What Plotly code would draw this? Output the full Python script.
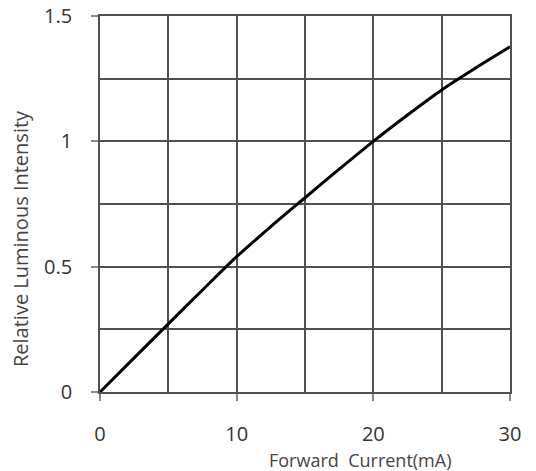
import plotly.graph_objects as go

current_ma = [0, 2.5, 5, 7.5, 10, 12.5, 15, 17.5, 20, 22.5, 25, 27.5, 30]
rel_intensity = [0, 0.136, 0.272, 0.407, 0.54, 0.66, 0.775, 0.889, 1.0, 1.105, 1.205, 1.293, 1.377]

x_ticks = [0, 10, 20, 30]
y_ticks = [0, 0.5, 1, 1.5]
y_tick_text = ["0", "0.5", "1", "1.5"]

x_title = "Forward  Current(mA)"
y_title = "Relative Luminous Intensity"

fig = go.Figure()
fig.add_trace(go.Scatter(x=current_ma, y=rel_intensity, mode="lines",
                         line=dict(color="black", width=3, shape="spline", smoothing=0.8),
                         showlegend=False, hoverinfo="skip"))

grid_col = "#505050"
tick_col = "#8a8a8a"
font_fam = "Open Sans, Liberation Sans, sans-serif"

ML, MR, MT, MB = 100, 26, 16, 79
W, H = 536, 471
pw, ph = W - ML - MR, H - MT - MB

axis_common = dict(
    showgrid=True, gridcolor=grid_col, gridwidth=1.8,
    showline=True, linecolor=grid_col, linewidth=1.8, mirror=True,
    ticks="outside", ticklen=7, tickcolor=tick_col, tickwidth=1.5,
    tickfont=dict(size=20, color="#333333"), ticklabeloverflow="allow",
    zeroline=False, fixedrange=True, automargin=False,
)

fig.update_layout(
    width=W, height=H,
    margin=dict(l=ML, r=MR, t=MT, b=MB),
    paper_bgcolor="white", plot_bgcolor="white",
    font=dict(family=font_fam, color="#333333"),
    xaxis=dict(range=[0, 30], tickvals=x_ticks, ticktext=[str(v) for v in x_ticks],
               minor=dict(dtick=5, tick0=0, showgrid=True, gridcolor=grid_col, gridwidth=1.8),
               ticklabelstandoff=16, **axis_common),
    yaxis=dict(range=[0, 1.5], tickvals=y_ticks, ticktext=y_tick_text,
               minor=dict(dtick=0.25, tick0=0, showgrid=True, gridcolor=grid_col, gridwidth=1.8),
               ticklabelstandoff=15, **axis_common),
    annotations=[
        dict(text=x_title, xref="paper", yref="paper",
             x=(360 - 100) / pw, y=(392 - 460) / ph,
             xanchor="center", yanchor="middle", showarrow=False,
             font=dict(size=18, color="#444444")),
        dict(text=y_title, xref="paper", yref="paper",
             x=(20 - 100) / pw, y=(392 - 239) / ph,
             xanchor="center", yanchor="middle", showarrow=False, textangle=-90,
             font=dict(size=20, color="#444444")),
    ],
)

fig.write_html("out.html", config={"displayModeBar": False},
               post_script="document.body.style.margin='0';")
